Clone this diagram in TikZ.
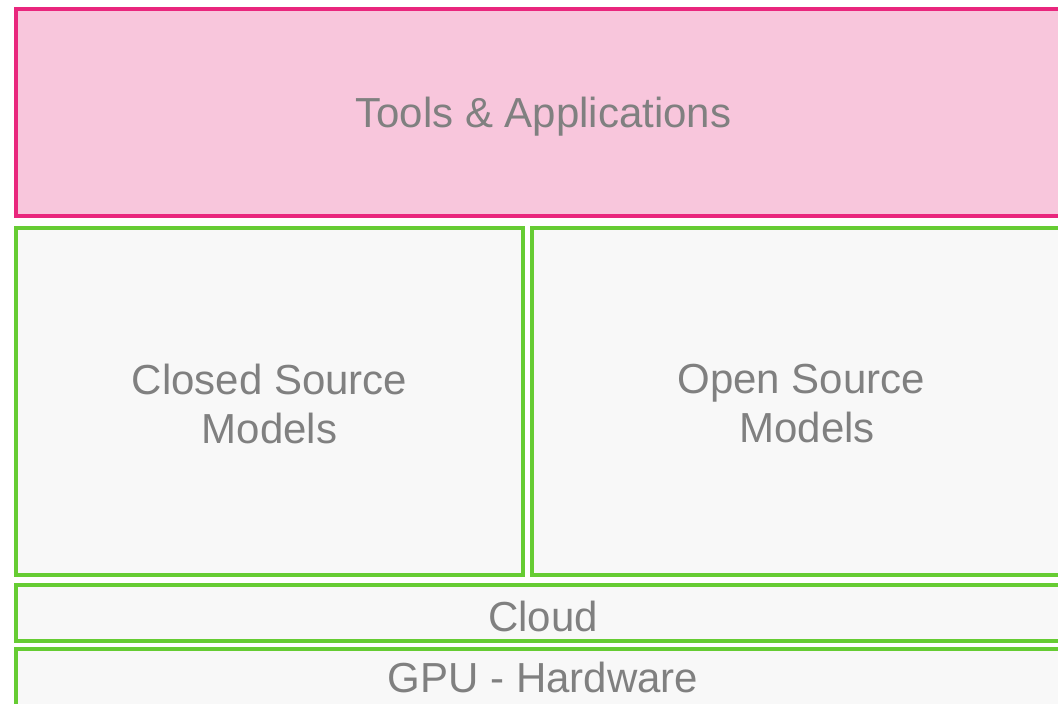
\documentclass[tikz,border=0pt]{standalone}
\usepackage{fontspec}
\setmainfont{Liberation Sans}
\definecolor{pinkfill}{RGB}{248,198,220}
\definecolor{pinkline}{RGB}{233,38,125}
\definecolor{greenline}{RGB}{102,204,51}
\definecolor{greyfill}{RGB}{248,248,248}
\definecolor{txtgrey}{RGB}{128,128,128}
\tikzset{
  layer/.style={draw, line width=4pt, inner sep=0pt, outer sep=0pt, anchor=north west},
  pinklayer/.style={layer, draw=pinkline, fill=pinkfill},
  greenlayer/.style={layer, draw=greenline, fill=greyfill},
  lbl/.style={text=txtgrey, font=\fontsize{42}{49}\selectfont, align=center, inner sep=0pt, anchor=base}
}
\begin{document}
\begin{tikzpicture}[x=1pt,y=1pt]
\useasboundingbox (0,0) rectangle (1058,704);
\clip (0,0) rectangle (1058,704);
\fill[white] (0,0) rectangle (1058,704);
% boxes (y measured from top: 704 - y)
\node[pinklayer, minimum width=1054pt, minimum height=207pt] (tools) at (16,695) {};
\node[greenlayer, minimum width=507pt, minimum height=347pt] (closed) at (16,476) {};
\node[greenlayer, minimum width=538pt, minimum height=347pt] (open) at (532,476) {};
\node[greenlayer, minimum width=1054pt, minimum height=56pt] (cloud) at (16,119) {};
\node[greenlayer, minimum width=1054pt, minimum height=64pt] (gpu) at (16,55) {};
% labels
\node[lbl] (toolsT) at (543.5,576) {Tools \& Applications};
\node[lbl, anchor=north] (closedT) at (269.5,340.5) {Closed Source\\Models};
\node[lbl, anchor=north] (openT) at (807,340.5) {Open Source\hspace*{0.278em}\\Models};
\node[lbl] (cloudT) at (543,72) {Cloud};
\node[lbl] (gpuT) at (543,11) {GPU - Hardware};
\end{tikzpicture}
\end{document}
